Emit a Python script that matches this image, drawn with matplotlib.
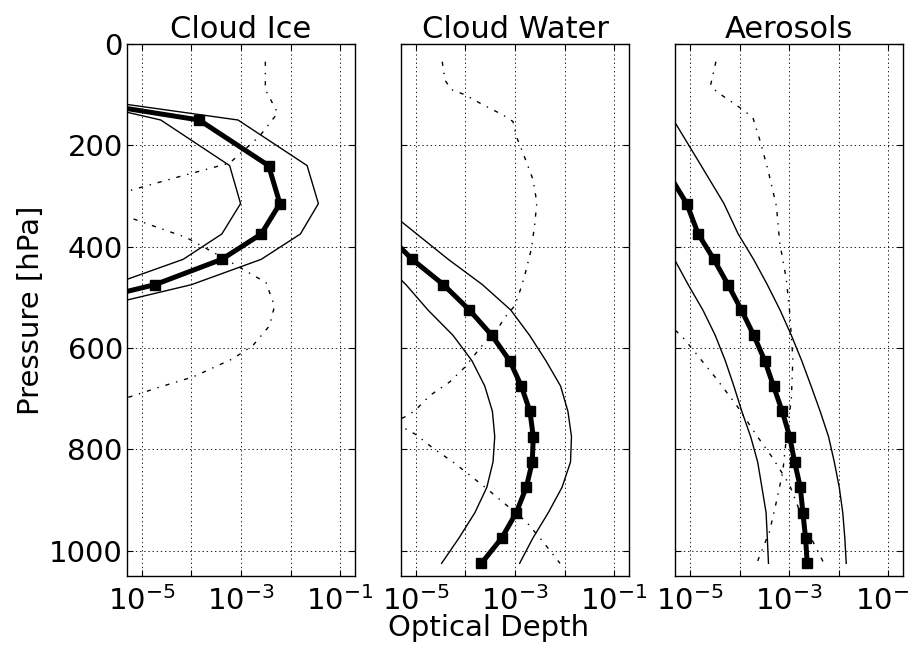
import matplotlib
matplotlib.use("Agg")
import matplotlib.pyplot as plt
from matplotlib.ticker import NullFormatter

plt.rcParams['font.family'] = ['DejaVu Sans']
plt.rcParams['lines.scale_dashes'] = False
plt.rcParams['mathtext.fontset'] = 'dejavusans'

titles = ["Cloud Ice", "Cloud Water", "Aerosols"]

# ---- Cloud Ice ----
ice_lev = [50, 150, 240, 315, 375, 425, 475, 525]
ice_mean = [5e-11, 1.43e-4, 3.6e-3, 6.1e-3, 2.56e-3, 4.1e-4, 1.83e-5, 1.4e-7]
ice_hi = [4.4e-11, 8.7e-4, 2.16e-2, 3.65e-2, 1.58e-2, 2.56e-3, 1.0e-4, 7.2e-7]
ice_lo = [8.5e-10, 2.4e-5, 5.9e-4, 9.8e-4, 4.1e-4, 6.8e-5, 2.5e-6, 3e-8]
ice_dd_p = [35, 90, 136, 182, 235, 261, 287, 315, 343, 382, 418, 471, 517, 556,
            595, 621, 657, 677, 694, 720]
ice_dd = [3.1e-3, 3.1e-3, 5.5e-3, 2.37e-3, 5.9e-4, 6.1e-5, 6.8e-6, 1e-6, 5.8e-6,
          7.9e-5, 3.7e-4, 3.2e-3, 4.75e-3, 3.77e-3, 1.74e-3, 6.9e-4, 1.08e-4,
          2.3e-5, 6.8e-6, 1e-6]

# ---- Cloud Water ----
wat_lev = [315, 375, 425, 475, 525, 575, 625, 675, 725, 775, 825, 875, 925, 975, 1025]
wat_mean = [3.2e-7, 2.6e-6, 8.4e-6, 3.6e-5, 1.2e-4, 3.4e-4, 7.8e-4, 1.34e-3, 2.0e-3,
            2.34e-3, 2.23e-3, 1.69e-3, 1.06e-3, 5.4e-4, 2.1e-4]
wat_hi = [1.8e-6, 1.04e-5, 4.5e-5, 2.2e-4, 8.2e-4, 1.97e-3, 4.2e-3, 8.3e-3, 1.17e-2,
          1.38e-2, 1.32e-2, 8.9e-3, 4.7e-3, 2.3e-3, 1.24e-3]
wat_lo = [1e-7, 5e-7, 1.9e-6, 6.3e-6, 1.75e-5, 5.6e-5, 1.35e-4, 2.45e-4, 3.5e-4,
          3.9e-4, 3.6e-4, 2.7e-4, 1.55e-4, 7.4e-5, 3.3e-5]
wat_dd_p = [35, 71, 90, 100, 120, 140, 153, 182, 215, 267, 313, 359, 405, 458, 480,
            517, 540, 556, 585, 605, 638, 667, 694, 720, 733, 748, 762, 772, 798,
            825, 851, 877, 910, 943, 982, 1025]
wat_dd = [3.4e-5, 3.84e-5, 5.2e-5, 9.7e-5, 2.26e-4, 5.7e-4, 9.1e-4, 1.06e-3, 1.45e-3,
          2.3e-3, 2.76e-3, 2.48e-3, 2.13e-3, 1.56e-3, 1.34e-3, 9.8e-4, 6.2e-4, 4.9e-4,
          2.65e-4, 1.8e-4, 9.7e-5, 4.8e-5, 1.9e-5, 1.04e-5, 7.0e-6, 3.2e-6, 7.0e-6,
          1.04e-5, 2.23e-5, 5.6e-5, 1.22e-4, 2.65e-4, 6.7e-4, 1.69e-3, 3.65e-3, 8.1e-3]

# ---- Aerosols ----
aer_lev = [150, 240, 315, 375, 425, 475, 525, 575, 625, 675, 725, 775, 825, 875,
           925, 975, 1025]
aer_mean = [3.2e-7, 2.9e-6, 8.5e-6, 1.45e-5, 3.0e-5, 5.8e-5, 1.08e-4, 1.92e-4, 3.2e-4,
            4.8e-4, 7.2e-4, 1.02e-3, 1.28e-3, 1.67e-3, 1.88e-3, 2.13e-3, 2.3e-3]
aer_hi = [4.6e-6, 1.66e-5, 4.8e-5, 9.3e-5, 1.9e-4, 3.6e-4, 6.5e-4, 1.1e-3, 1.78e-3,
          2.75e-3, 4.2e-3, 6.2e-3, 8.1e-3, 1.02e-2, 1.2e-2, 1.32e-2, 1.41e-2]
aer_lo = [3.2e-8, 3.2e-7, 1e-6, 2.3e-6, 4.8e-6, 9.1e-6, 1.8e-5, 3.2e-5, 5.1e-5,
          7.6e-5, 1.1e-4, 1.66e-4, 2.3e-4, 2.8e-4, 3.4e-4, 3.6e-4, 3.8e-4]
aer_dd_p = [35, 81, 94, 130, 146, 189, 248, 320, 392, 464, 530, 621, 700, 779, 844,
            903, 962, 1025]
aer_dd = [3.3e-5, 2.58e-5, 3.4e-5, 1.17e-4, 1.85e-4, 2.53e-4, 3.7e-4, 5.5e-4, 6.4e-4,
          8.7e-4, 1.02e-3, 1.18e-3, 1.1e-3, 8.7e-4, 7.4e-4, 5.5e-4, 4.0e-4, 2.2e-4]
aer_dd2_p = [540, 576, 608, 661, 713, 772, 818, 871, 956, 1025]
aer_dd2 = [2.5e-6, 6.7e-6, 1.24e-5, 3.4e-5, 8.6e-5, 2.17e-4, 4.7e-4, 1.02e-3, 2.2e-3, 5.0e-3]

xticks = [1e-5, 1e-4, 1e-3, 1e-2, 1e-1]
xticklabels = ['$10^{-5}$', '', '$10^{-3}$', '', '$10^{-1}$']
yticks = [0, 200, 400, 600, 800, 1000]

panels = [
    (ice_lev, ice_mean, ice_hi, ice_lo, [(ice_dd_p, ice_dd)]),
    (wat_lev, wat_mean, wat_hi, wat_lo, [(wat_dd_p, wat_dd)]),
    (aer_lev, aer_mean, aer_hi, aer_lo, [(aer_dd_p, aer_dd), (aer_dd2_p, aer_dd2)]),
]

fig = plt.figure(figsize=(9.12, 6.46), dpi=100)
lefts = [127 / 912, 401 / 912, 675.3 / 912]
W, H = 912.0, 646.0
axes = []
FS = 21
for i, (lev, mean, hi, lo, dds) in enumerate(panels):
    ax = fig.add_axes([lefts[i], 70 / H, 228 / W, 532 / H])
    axes.append(ax)
    ax.set_xscale('log')
    ax.plot(hi, lev, color='k', lw=1.0)
    ax.plot(lo, lev, color='k', lw=1.0)
    for dp, dv in dds:
        ax.plot(dv, dp, color='k', lw=1.0, linestyle=(0, (3, 5, 1, 5)))
    ax.plot(mean, lev, color='k', lw=3.6, marker='s', ms=7.5, mfc='k', mec='k')
    ax.set_xlim(5e-6, 0.2)
    ax.set_ylim(1050, 0)
    ax.set_xticks(xticks)
    ax.set_xticklabels(xticklabels)
    ax.xaxis.set_minor_formatter(NullFormatter())
    ax.set_yticks(yticks)
    ax.grid(True, which='major', color='k', linestyle=(0, (1, 2)), linewidth=0.6)
    ax.tick_params(which='both', direction='in', top=True, right=True, labelsize=FS)
    ax.tick_params(which='major', length=4.5, width=0.8)
    ax.tick_params(which='minor', length=2.2, width=0.6)
    ax.tick_params(axis='x', which='major', pad=7)
    ax.tick_params(axis='y', which='major', pad=3)
    if i > 0:
        ax.tick_params(axis='y', labelleft=False)
    for s in ax.spines.values():
        s.set_linewidth(1.0)
    ax.set_title(titles[i], fontsize=22, pad=4.5)

axes[0].set_ylabel('Pressure [hPa]', fontsize=FS)
axes[0].yaxis.set_label_coords(-0.36, 0.5)
axes[1].set_xlabel('Optical Depth', fontsize=FS)
axes[1].xaxis.set_label_coords(0.386, -0.072)

fig.savefig('out.png', dpi=100)
